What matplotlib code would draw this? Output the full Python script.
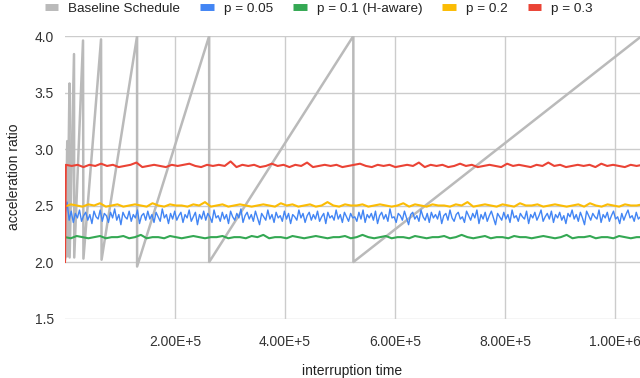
import numpy as np
import matplotlib.pyplot as plt
from matplotlib.lines import Line2D

plt.rcParams['font.family'] = ['Liberation Sans', 'DejaVu Sans']

# baseline (doubling) schedule: vertices of the sawtooth
baseline_t = [0, 1000, 4096, 4200, 8192, 8400, 16384, 16800, 32768, 33500,
              65536, 66500, 131072, 131100, 262144, 262200, 524288, 524400, 1048576]
baseline_r = [2.02, 2.05, 3.07, 2.05, 3.58, 2.04, 3.84, 2.04, 3.96, 2.03,
              3.97, 2.02, 4.00, 1.96, 4.00, 2.00, 4.00, 2.00, 4.00]

t_end = 1.05e6

p005 = [2.42, 2.53, 2.37, 2.45, 2.35, 2.43, 2.39, 2.46, 2.36, 2.41,
        2.44, 2.37, 2.42, 2.34, 2.45, 2.40, 2.38, 2.46, 2.36, 2.43,
        2.41, 2.35, 2.44, 2.39, 2.47, 2.37, 2.42, 2.33, 2.44, 2.40,
        2.38, 2.45, 2.36, 2.42, 2.39, 2.46, 2.34, 2.41, 2.43, 2.37,
        2.45, 2.38, 2.42, 2.35, 2.44, 2.40, 2.36, 2.47, 2.39, 2.42,
        2.34, 2.43, 2.38, 2.45, 2.37, 2.41, 2.44, 2.35, 2.42, 2.39,
        2.46, 2.36, 2.40, 2.44, 2.33, 2.42, 2.38, 2.45, 2.37, 2.43,
        2.40, 2.35, 2.46, 2.39, 2.41, 2.36, 2.44, 2.38, 2.42, 2.34,
        2.45, 2.40, 2.37, 2.43, 2.39, 2.47, 2.35, 2.41, 2.44, 2.38,
        2.42, 2.36, 2.45, 2.39, 2.33, 2.43, 2.40, 2.37, 2.46, 2.38,
        2.42, 2.35, 2.44, 2.39, 2.41, 2.36, 2.45, 2.38, 2.43, 2.34,
        2.42, 2.40, 2.37, 2.46, 2.39, 2.43, 2.35, 2.41, 2.44, 2.37,
        2.42, 2.38, 2.45, 2.36, 2.40, 2.43, 2.34, 2.44, 2.39, 2.41,
        2.37, 2.46, 2.38, 2.42, 2.35, 2.44, 2.40, 2.36, 2.43, 2.39,
        2.40, 2.36, 2.44, 2.38, 2.46, 2.35, 2.42, 2.39, 2.43, 2.37,
        2.45, 2.34, 2.41, 2.44, 2.38, 2.42, 2.36, 2.47, 2.39, 2.40,
        2.35, 2.43, 2.41, 2.37, 2.45, 2.39, 2.33, 2.42, 2.44, 2.38,
        2.41, 2.36, 2.46, 2.40, 2.37, 2.43, 2.35, 2.44, 2.39, 2.42,
        2.38, 2.45, 2.34, 2.41, 2.43, 2.37, 2.46, 2.39, 2.36, 2.42,
        2.44, 2.38, 2.40, 2.35, 2.45, 2.41, 2.37, 2.43, 2.39, 2.46,
        2.34, 2.42, 2.38, 2.44, 2.36, 2.41, 2.45, 2.39, 2.33, 2.43,
        2.40, 2.37, 2.44, 2.38, 2.42, 2.35, 2.46, 2.39, 2.41, 2.36,
        2.43, 2.40, 2.38, 2.45, 2.34, 2.42, 2.39, 2.44, 2.37, 2.41,
        2.46, 2.36, 2.40, 2.43, 2.38, 2.45, 2.35, 2.42, 2.39, 2.44,
        2.37, 2.41, 2.34, 2.43, 2.40, 2.46, 2.38, 2.42, 2.36, 2.44,
        2.39, 2.33, 2.45, 2.41, 2.37, 2.43, 2.40, 2.38, 2.46, 2.35,
        2.42, 2.39, 2.44, 2.36, 2.41, 2.45, 2.38, 2.40, 2.34, 2.43,
        2.37, 2.42, 2.46, 2.39, 2.41, 2.36, 2.44, 2.38, 2.40, 2.42]

p01 = [2.22, 2.21, 2.23, 2.22, 2.21, 2.22, 2.23, 2.21, 2.22, 2.22,
       2.23, 2.21, 2.22, 2.24, 2.21, 2.22, 2.22, 2.21, 2.23, 2.22,
       2.21, 2.22, 2.23, 2.22, 2.21, 2.22, 2.22, 2.23, 2.21, 2.22,
       2.22, 2.21, 2.23, 2.22, 2.24, 2.21, 2.22, 2.22, 2.21, 2.23,
       2.22, 2.21, 2.22, 2.23, 2.22, 2.21, 2.22, 2.22, 2.23, 2.21,
       2.22, 2.24, 2.22, 2.21, 2.22, 2.23, 2.21, 2.22, 2.22, 2.21,
       2.23, 2.22, 2.21, 2.22, 2.22, 2.23, 2.21, 2.22, 2.24, 2.22,
       2.21, 2.22, 2.23, 2.21, 2.22, 2.22, 2.21, 2.23, 2.22, 2.22,
       2.21, 2.22, 2.23, 2.22, 2.21, 2.22, 2.24, 2.21, 2.22, 2.22,
       2.23, 2.21, 2.22, 2.22, 2.21, 2.23, 2.22, 2.21, 2.22, 2.22]

p02 = [2.49, 2.51, 2.50, 2.49, 2.51, 2.50, 2.52, 2.49, 2.50, 2.51,
       2.49, 2.50, 2.51, 2.50, 2.49, 2.52, 2.50, 2.49, 2.51, 2.50,
       2.50, 2.49, 2.51, 2.50, 2.53, 2.49, 2.50, 2.51, 2.49, 2.50,
       2.51, 2.50, 2.49, 2.50, 2.51, 2.50, 2.49, 2.52, 2.50, 2.51,
       2.49, 2.50, 2.51, 2.49, 2.50, 2.53, 2.50, 2.49, 2.51, 2.50,
       2.50, 2.51, 2.49, 2.50, 2.51, 2.50, 2.49, 2.50, 2.52, 2.49,
       2.51, 2.50, 2.49, 2.51, 2.50, 2.50, 2.49, 2.51, 2.50, 2.53,
       2.49, 2.50, 2.51, 2.50, 2.49, 2.51, 2.50, 2.49, 2.52, 2.50,
       2.50, 2.51, 2.49, 2.50, 2.51, 2.50, 2.49, 2.50, 2.51, 2.49,
       2.52, 2.50, 2.49, 2.51, 2.50, 2.49, 2.51, 2.50, 2.50, 2.51]

p03 = [2.00, 2.86, 2.85, 2.86, 2.84, 2.86, 2.85, 2.87, 2.85, 2.86,
       2.84, 2.85, 2.86, 2.88, 2.84, 2.85, 2.86, 2.85, 2.84, 2.86,
       2.85, 2.86, 2.87, 2.85, 2.84, 2.86, 2.85, 2.86, 2.85, 2.89,
       2.84, 2.86, 2.85, 2.86, 2.84, 2.85, 2.87, 2.85, 2.86, 2.84,
       2.86, 2.85, 2.88, 2.84, 2.85, 2.86, 2.85, 2.86, 2.84, 2.85,
       2.86, 2.87, 2.85, 2.84, 2.86, 2.85, 2.86, 2.84, 2.85, 2.86,
       2.85, 2.88, 2.84, 2.86, 2.85, 2.86, 2.84, 2.85, 2.87, 2.85,
       2.86, 2.84, 2.85, 2.86, 2.85, 2.84, 2.87, 2.85, 2.86, 2.85,
       2.84, 2.86, 2.85, 2.88, 2.85, 2.86, 2.84, 2.85, 2.86, 2.85,
       2.86, 2.84, 2.87, 2.85, 2.86, 2.85, 2.84, 2.86, 2.85, 2.86]

labels = ['Baseline Schedule', 'p = 0.05', 'p = 0.1 (H-aware)', 'p = 0.2', 'p = 0.3']
colors = ['#bababa', '#4285f4', '#34a853', '#fbbc04', '#ea4335']

fig = plt.figure(figsize=(6.4, 3.78), dpi=100)
ax = fig.add_axes([65 / 640, 59.5 / 378, 575 / 640, 282.5 / 378])

ax.plot(baseline_t, baseline_r, color=colors[0], lw=1.8, zorder=2)

for vals, c, w in zip([p005, p01, p02, p03], colors[1:], [1.0, 1.5, 1.5, 1.5]):
    t = np.linspace(0, t_end, len(vals))
    if vals is p03:
        # first point sits at t=0, rest spread after it
        t = np.concatenate([[0], np.linspace(1500, t_end, len(vals) - 1)])
    ax.plot(t, vals, color=c, lw=w, zorder=3)

ax.set_xlim(0, 1.0455e6)
ax.set_ylim(1.5, 4.0)
ax.set_yticks([1.5, 2.0, 2.5, 3.0, 3.5, 4.0])
ax.set_yticklabels(['1.5', '2.0', '2.5', '3.0', '3.5', '4.0'])
ax.set_xticks([2e5, 4e5, 6e5, 8e5, 1e6])
ax.set_xticklabels(['2.00E+5', '4.00E+5', '6.00E+5', '8.00E+5', '1.00E+6'])
ax.grid(True, color='#cccccc', lw=1)
ax.set_axisbelow(True)
for s in ax.spines.values():
    s.set_visible(False)
ax.tick_params(axis='both', length=0, labelsize=10, labelcolor='#333333')
ax.tick_params(axis='x', pad=12)
ax.tick_params(axis='y', pad=8)
ax.set_xlabel('interruption time', fontsize=10, color='#222222')
ax.xaxis.set_label_coords(0.5, -0.16)
ax.set_ylabel('acceleration ratio', fontsize=10, color='#222222', labelpad=10)

handles = [Line2D([], [], color=c, lw=5, solid_capstyle='butt') for c in colors]
fig.legend(handles, labels, ncol=5, loc='upper center', bbox_to_anchor=(0.498, 1.026),
           frameon=False, handlelength=1.0, handletextpad=0.74, columnspacing=1.5,
           fontsize=9.7, labelcolor='#222222')

fig.savefig('out.png', dpi=100)
